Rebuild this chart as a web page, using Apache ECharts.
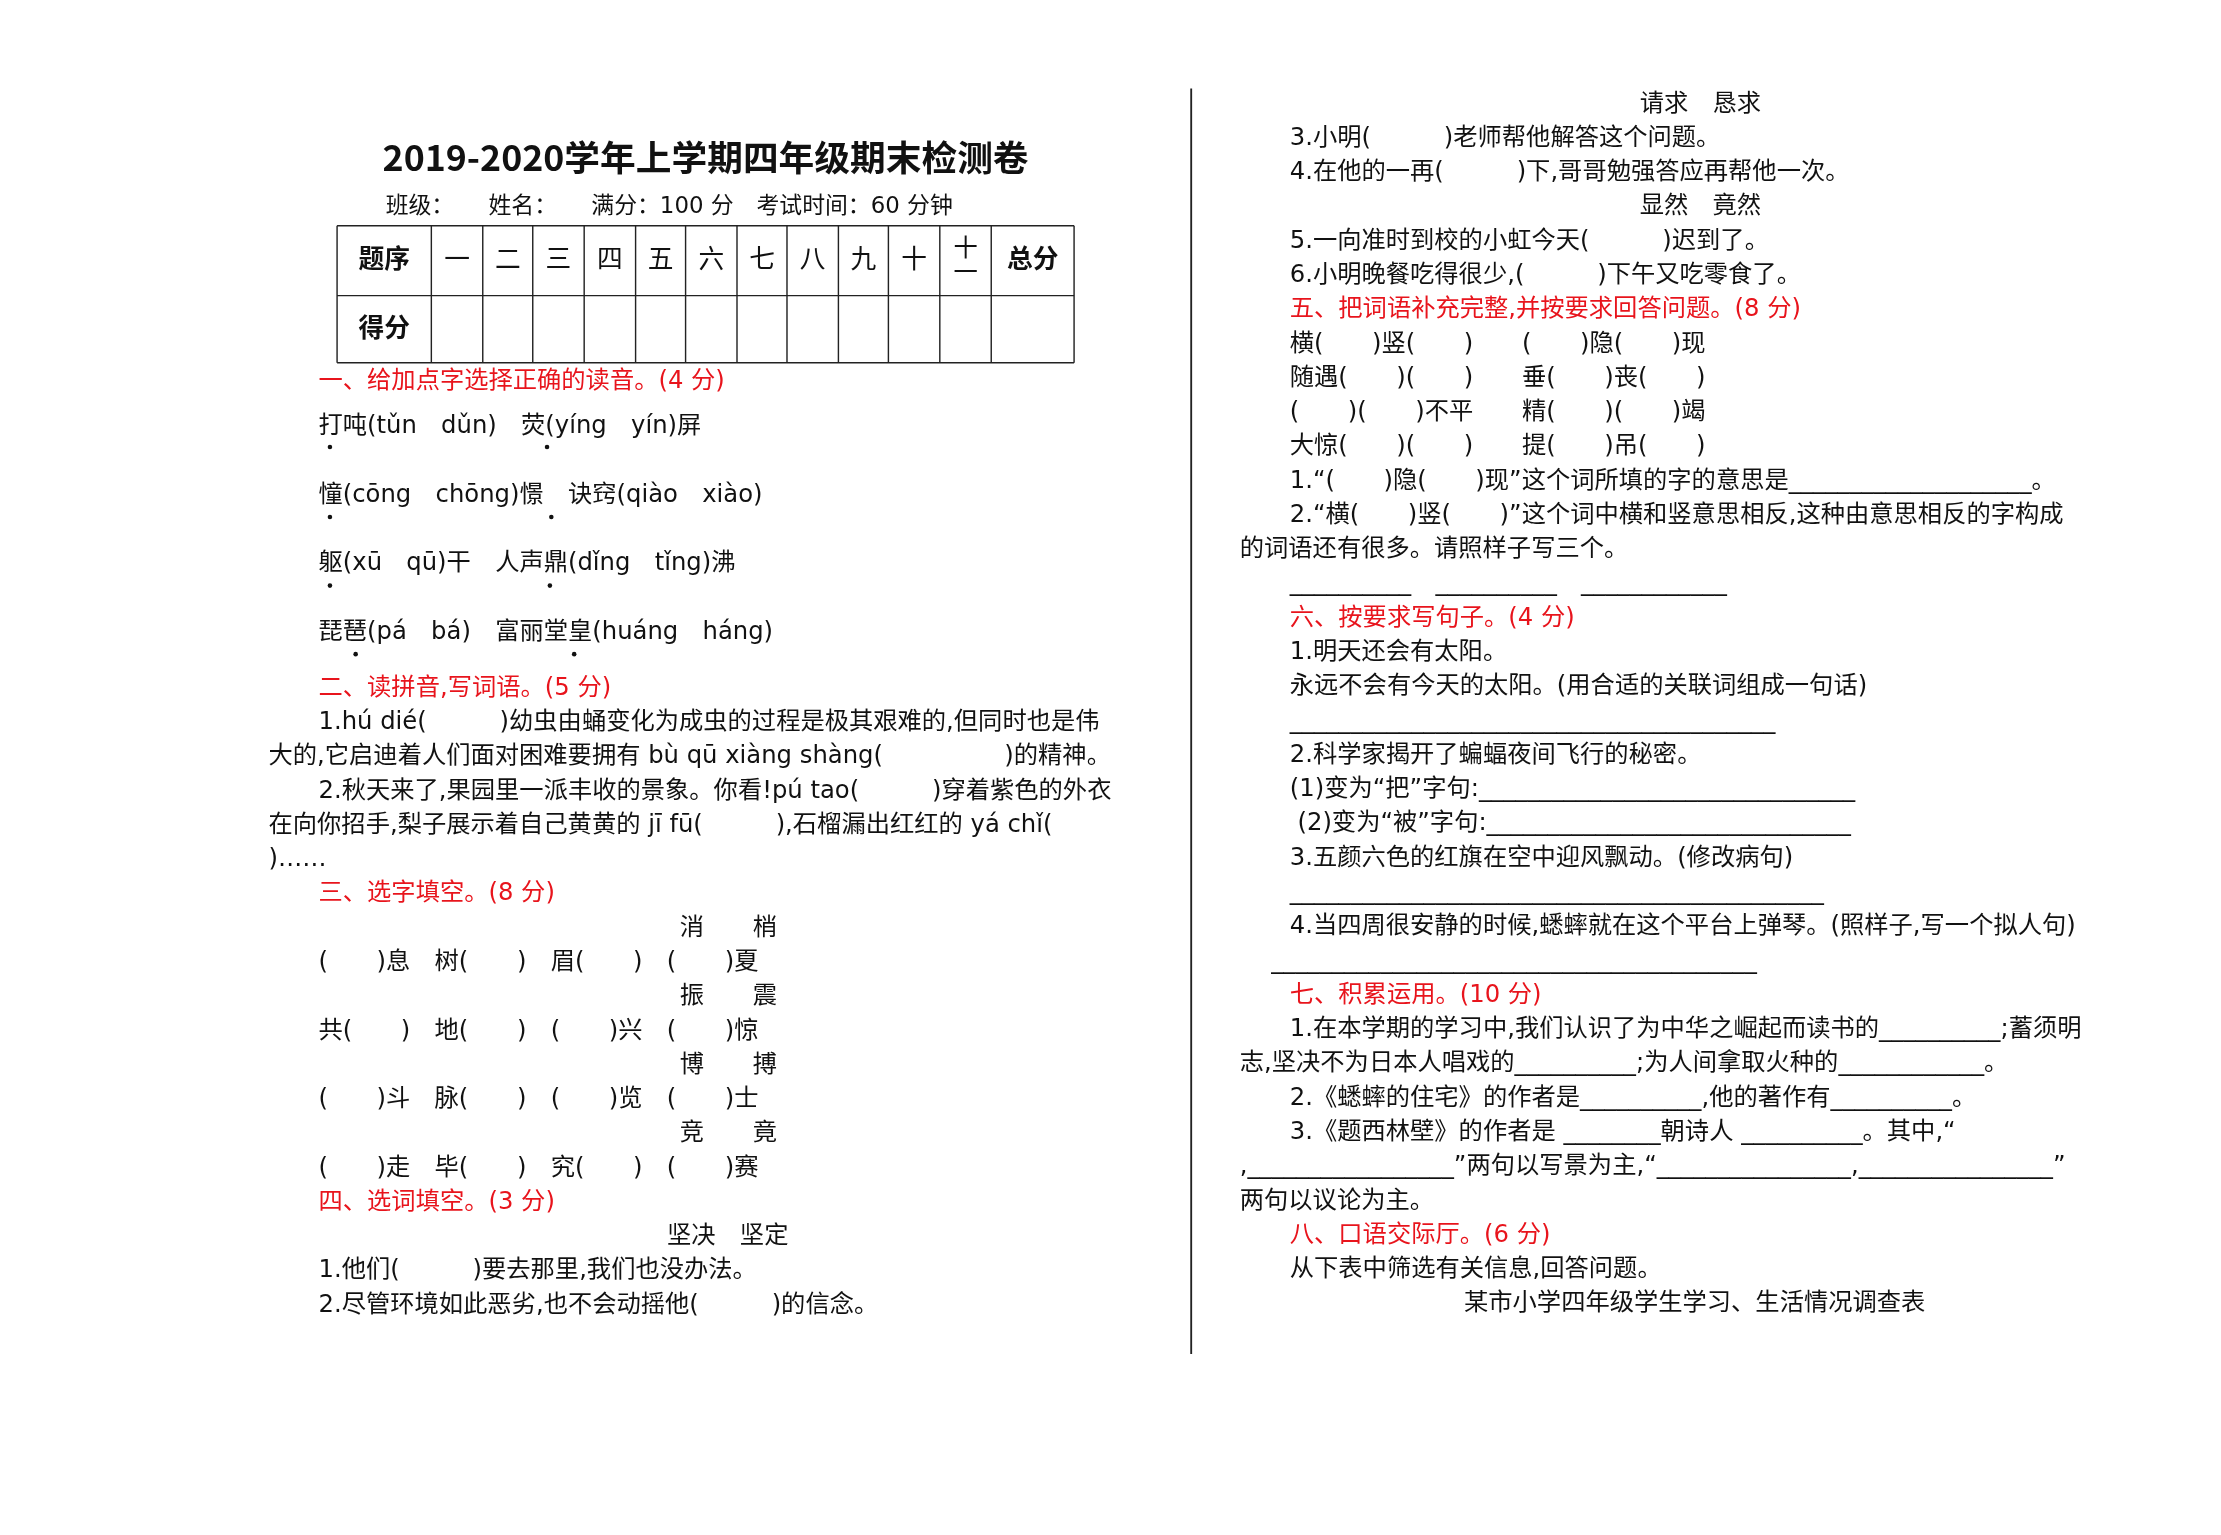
<!DOCTYPE html>
<html><head><meta charset="utf-8">
<script src="https://cdn.jsdelivr.net/npm/echarts@6/dist/echarts.min.js"></script>
<style>html,body{margin:0;background:#fff}#c{width:2221px;height:1535px}</style>
</head><body><div id="c"></div>
<script>
// 试卷文字（按行）
var title = '2019-2020学年上学期四年级期末检测卷';
var info = '班级：　　姓名：　　满分：100 分　考试时间：60 分钟';
var tableHead = ['题序', '一', '二', '三', '四', '五', '六', '七', '八', '九', '十', '十\n一', '总分'];
var tableRow2 = ['得分'];
var pinyinRows = [
  '打吨(tǔn　dǔn)　荧(yíng　yín)屏',
  '憧(cōng　chōng)憬　诀窍(qiào　xiào)',
  '躯(xū　qū)干　人声鼎(dǐng　tǐng)沸',
  '琵琶(pá　bá)　富丽堂皇(huáng　háng)'
];
var leftLines = [
  ['二、读拼音,写词语。(5 分)', 'a', 1],
  ['1.hú dié(　　　)幼虫由蛹变化为成虫的过程是极其艰难的,但同时也是伟', 'a'],
  ['大的,它启迪着人们面对困难要拥有 bù qū xiàng shàng(　　　　　)的精神。', 'b'],
  ['2.秋天来了,果园里一派丰收的景象。你看!pú tao(　　　)穿着紫色的外衣', 'a'],
  ['在向你招手,梨子展示着自己黄黄的 jī fū(　　　),石榴漏出红红的 yá chǐ(', 'b'],
  [')……', 'b'],
  ['三、选字填空。(8 分)', 'a', 1],
  ['消　　梢', 'w'],
  ['(　　)息　树(　　)　眉(　　)　(　　)夏', 'a'],
  ['振　　震', 'w'],
  ['共(　　)　地(　　)　(　　)兴　(　　)惊', 'a'],
  ['博　　搏', 'w'],
  ['(　　)斗　脉(　　)　(　　)览　(　　)士', 'a'],
  ['竞　　竟', 'w'],
  ['(　　)走　毕(　　)　究(　　)　(　　)赛', 'a'],
  ['四、选词填空。(3 分)', 'a', 1],
  ['坚决　坚定', 'v'],
  ['1.他们(　　　)要去那里,我们也没办法。', 'a'],
  ['2.尽管环境如此恶劣,也不会动摇他(　　　)的信念。', 'a']
];
var rightLines = [
  ['请求　恳求', 'c'],
  ['3.小明(　　　)老师帮他解答这个问题。', 'a'],
  ['4.在他的一再(　　　)下,哥哥勉强答应再帮他一次。', 'a'],
  ['显然　竟然', 'c'],
  ['5.一向准时到校的小虹今天(　　　)迟到了。', 'a'],
  ['6.小明晚餐吃得很少,(　　　)下午又吃零食了。', 'a'],
  ['五、把词语补充完整,并按要求回答问题。(8 分)', 'a', 1],
  ['横(　　)竖(　　)　　(　　)隐(　　)现', 'a'],
  ['随遇(　　)(　　)　　垂(　　)丧(　　)', 'a'],
  ['(　　)(　　)不平　　精(　　)(　　)竭', 'a'],
  ['大惊(　　)(　　)　　提(　　)吊(　　)', 'a'],
  ['1.“(　　)隐(　　)现”这个词所填的字的意思是____________________。', 'a'],
  ['2.“横(　　)竖(　　)”这个词中横和竖意思相反,这种由意思相反的字构成', 'a'],
  ['的词语还有很多。请照样子写三个。', 'b'],
  ['__________　__________　____________', 'a'],
  ['六、按要求写句子。(4 分)', 'a', 1],
  ['1.明天还会有太阳。', 'a'],
  ['永远不会有今天的太阳。(用合适的关联词组成一句话)', 'a'],
  ['________________________________________', 'a'],
  ['2.科学家揭开了蝙蝠夜间飞行的秘密。', 'a'],
  ['(1)变为“把”字句:_______________________________', 'a'],
  [' (2)变为“被”字句:______________________________', 'a'],
  ['3.五颜六色的红旗在空中迎风飘动。(修改病句)', 'a'],
  ['____________________________________________', 'a'],
  ['4.当四周很安静的时候,蟋蟀就在这个平台上弹琴。(照样子,写一个拟人句)', 'a'],
  ['________________________________________', 'd'],
  ['七、积累运用。(10 分)', 'a', 1],
  ['1.在本学期的学习中,我们认识了为中华之崛起而读书的__________;蓄须明', 'a'],
  ['志,坚决不为日本人唱戏的__________;为人间拿取火种的____________。', 'b'],
  ['2.《蟋蟀的住宅》的作者是__________,他的著作有__________。', 'a'],
  ['3.《题西林壁》的作者是 ________朝诗人 __________。其中,“', 'a'],
  [',_________________”两句以写景为主,“________________,________________”', 'b'],
  ['两句以议论为主。', 'b'],
  ['八、口语交际厅。(6 分)', 'a', 1],
  ['从下表中筛选有关信息,回答问题。', 'a'],
  ['某市小学四年级学生学习、生活情况调查表', 'e']
];

var FONT = '"DejaVu Sans","Noto Sans CJK SC",sans-serif';
var indents = {a: 223, b: 188, w: 476, v: 467};
var rIndents = {a: 903, b: 868, c: 1148, d: 890, e: 1025};
var kids = [];
function txt(x, y, s, o) {
  o = o || {};
  kids.push({type: 'text', x: x, y: y, style: {text: s, fill: o.red ? '#e8141c' : '#111',
    font: (o.bold ? 'bold ' : '') + (o.size || 17) + 'px ' + (o.family || FONT),
    textAlign: o.align || 'left', textVerticalAlign: 'middle', letterSpacing: o.ls || 0}});
}
function line(x1, y1, x2, y2, w) {
  kids.push({type: 'line', shape: {x1: x1, y1: y1, x2: x2, y2: y2}, style: {stroke: '#222', lineWidth: w || 1}});
}
txt(494, 110, title, {bold: true, size: 25, align: 'center', family: '"Noto Sans CJK SC",serif'});
txt(270, 145, info, {size: 16, ls: 1});
// 表格
var colX = [236, 302, 338, 373, 409, 445, 480, 516, 551, 587, 622, 658, 694, 752];
line(236, 158, 752, 158); line(236, 207, 752, 207); line(236, 254, 752, 254);
colX.forEach(function (x) { line(x, 158, x, 254); });
tableHead.forEach(function (h, i) {
  var cx = (colX[i] + colX[i + 1]) / 2;
  txt(cx, 183, h, {bold: i === 0 || i === 12, size: i === 11 ? 17 : 18, align: 'center'});
});
txt(269, 231, tableRow2[0], {bold: true, size: 18, align: 'center'});
txt(223, 267, '一、给加点字选择正确的读音。(4 分)', {red: 1});
pinyinRows.forEach(function (r, i) { txt(223, 299 + 48 * i, r); });
[[231, 313], [383, 313], [231, 362], [386, 362], [231, 410], [385, 410], [249, 458], [402, 458]].forEach(function (p) {
  kids.push({type: 'circle', shape: {cx: p[0], cy: p[1], r: 1.6}, style: {fill: '#111'}});
});
leftLines.forEach(function (l, i) { txt(indents[l[1]], 482 + 24 * i, l[0], {red: l[2]}); });
rightLines.forEach(function (l, i) { txt(rIndents[l[1]], 73 + 24 * i, l[0], {red: l[2]}); });
line(834, 62, 834, 948, 1.3);

var s = 2221 / 1555;
var chart = echarts.init(document.getElementById('c'));
chart.setOption({graphic: [{type: 'group', scaleX: s, scaleY: s, children: kids}]});
</script></body></html>
